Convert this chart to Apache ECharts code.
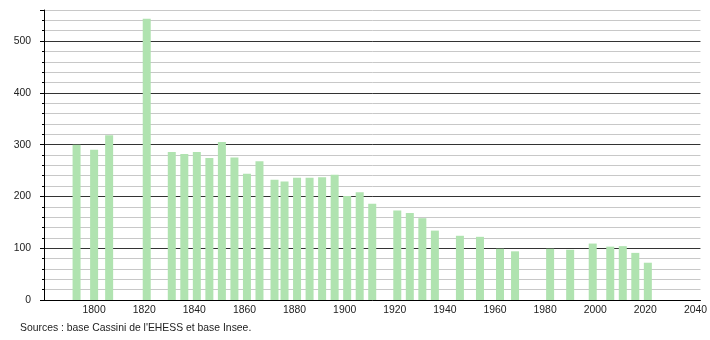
<!DOCTYPE html>
<html><head><meta charset="utf-8">
<script src="https://cdn.jsdelivr.net/npm/echarts@6/dist/echarts.min.js"></script>
<style>html,body{margin:0;padding:0;background:#fff}#c{width:710px;height:340px}</style>
</head><body><div id="c"></div>
<script>
const years = [1793,1800,1806,1821,1831,1836,1841,1846,1851,1856,1861,1866,1872,1876,1881,1886,1891,1896,1901,1906,1911,1921,1926,1931,1936,1946,1954,1962,1968,1982,1990,1999,2006,2011,2016,2021];
const population = [300,290,318,543,286,282,286,274,305,275,244,268,232,229,236,236,237,242,201,208,186,173,168,158,134,124,122,99,94,99,97,109,103,104,91,72];
const sourceText = "Sources : base Cassini de l'EHESS et base Insee.";

const chart = echarts.init(document.getElementById('c'), null, {renderer:'canvas'});
const font = 'Liberation Sans, Arial, sans-serif';
chart.setOption({
  animation:false,
  backgroundColor:'#fff',
  grid:{left:44,right:9,top:10,bottom:40,containLabel:false},
  xAxis:{type:'value',min:1780,max:2042,interval:20,
    axisLine:{show:true,onZero:false,lineStyle:{color:'#000',width:1}},
    axisTick:{show:false},splitLine:{show:false},
    axisLabel:{showMinLabel:false,showMaxLabel:false,margin:5,fontSize:10.4,color:'#222',fontFamily:font,
      formatter:v=>v===1780?'':String(v)}},
  yAxis:{type:'value',min:0,max:560,interval:100,
    axisLine:{show:true,lineStyle:{color:'#000',width:1}},
    axisTick:{show:true,length:4,lineStyle:{color:'#000'}},
    minorTick:{show:true,splitNumber:5,length:2,lineStyle:{color:'#000'}},
    splitLine:{show:true,showMinLine:false,lineStyle:{color:['#333','#333','#333','#333','#333','#c8c8c8'],width:1}},
    minorSplitLine:{show:true,lineStyle:{color:'#c8c8c8',width:1}},
    axisLabel:{margin:13,fontSize:10.4,color:'#222',fontFamily:font,showMaxLabel:false,
      formatter:v=>v%100===0?String(v):''}},
  graphic:[{type:'text',left:20,top:323,style:{text:sourceText,fontSize:10.4,fill:'#222',font:'10.4px '+font}}],
  series:[{type:'bar',barWidth:8,
    data:years.map((y,i)=>[y,population[i]]),
    itemStyle:{color:'#b0e3b0'}}]
});
</script></body></html>
